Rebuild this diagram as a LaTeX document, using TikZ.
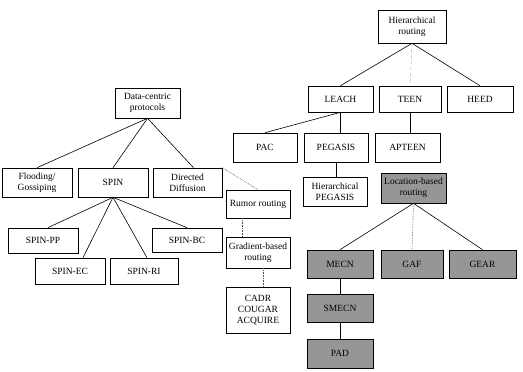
\documentclass[tikz,border=0pt]{standalone}
\usepackage{fontspec}
\setmainfont{Liberation Serif}
\usepackage{tikz}
\usetikzlibrary{calc,positioning}
\definecolor{locGray}{RGB}{150,150,150}

\tikzset{
  proto/.style={draw=black, fill=white, rectangle, line width=0.6pt, align=center,
    inner sep=1pt, font=\fontsize{9.5}{11}\selectfont},
  locbox/.style={proto, fill=locGray},
  tree/.style={line width=0.6pt},
  dotline/.style={line width=0.6pt, densely dotted, black!70},
  faint/.style={line width=0.5pt, dashed, black!35}
}

\begin{document}
\begin{tikzpicture}[x=1pt, y=-1pt]
  \useasboundingbox (0,0) rectangle (523,372);

  % hierarchical routing branch
  \node[proto, minimum width=68pt, minimum height=33pt] (hier) at (412,26.5) {Hierarchical\\routing};
  \node[proto, minimum width=65pt, minimum height=26pt] (leach) at (340.5,99) {LEACH};
  \node[proto, minimum width=62pt, minimum height=26pt] (teen) at (410,99) {TEEN};
  \node[proto, minimum width=66pt, minimum height=26pt] (heed) at (480,99) {HEED};
  \node[proto, minimum width=64pt, minimum height=29pt] (pac) at (265,147.5) {PAC};
  \node[proto, minimum width=64pt, minimum height=29pt] (pegasis) at (336,147.5) {PEGASIS};
  \node[proto, minimum width=65pt, minimum height=29pt] (apteen) at (407.5,147.5) {APTEEN};
  \node[proto, minimum width=64pt, minimum height=29pt] (hpeg) at (335,191.5) {Hierarchical\\PEGASIS};

  % location-based branch
  \node[locbox, minimum width=65pt, minimum height=30pt] (loc) at (413.5,188) {Location-based\\routing};
  \node[locbox, minimum width=66pt, minimum height=28pt] (mecn) at (340,264) {MECN};
  \node[locbox, minimum width=62pt, minimum height=28pt] (gaf) at (412,264) {GAF};
  \node[locbox, minimum width=67pt, minimum height=28pt] (gear) at (482.5,264) {GEAR};
  \node[locbox, minimum width=66pt, minimum height=28pt] (smecn) at (340,308) {SMECN};
  \node[locbox, minimum width=66pt, minimum height=29pt] (pad) at (340,353.5) {PAD};

  % data-centric branch
  \node[proto, minimum width=65pt, minimum height=30pt] (dc) at (147.5,103) {Data-centric\\protocols};
  \node[proto, minimum width=70pt, minimum height=29pt] (flood) at (37,182.5) {Flooding/\\Gossiping};
  \node[proto, minimum width=70pt, minimum height=29pt] (spin) at (113,182.5) {SPIN};
  \node[proto, minimum width=69pt, minimum height=29pt] (dd) at (187.5,182.5) {Directed\\Diffusion};
  \node[proto, minimum width=70pt, minimum height=25pt] (spinpp) at (43,240.5) {SPIN-PP};
  \node[proto, minimum width=70pt, minimum height=24pt] (spinbc) at (187,240) {SPIN-BC};
  \node[proto, minimum width=70pt, minimum height=26pt] (spinec) at (70,271) {SPIN-EC};
  \node[proto, minimum width=68pt, minimum height=26pt] (spinri) at (144,271) {SPIN-RI};
  \node[proto, minimum width=64pt, minimum height=28pt] (rumor) at (258,204) {Rumor routing};
  \node[proto, minimum width=64pt, minimum height=31pt] (grad) at (258,252.5) {Gradient-based\\routing};
  \node[proto, minimum width=64pt, minimum height=46pt] (cadr) at (258,310) {CADR\\COUGAR\\ACQUIRE};

  \draw[tree] (hier.south) -- (leach.north);
  \draw[faint] (hier.south) -- (teen.north);
  \draw[tree] (hier.south) -- (heed.north);
  \draw[tree] (leach.south) -- (pac.north);
  \draw[tree] (leach.south) -- (leach.south |- pegasis.north);
  \draw[tree] (teen.south) -- (teen.south |- apteen.north);
  \draw[tree] (pegasis.south) -- (pegasis.south |- hpeg.north);

  \draw[tree] (loc.south) -- (mecn.north);
  \draw[dotline] (loc.south) -- (gaf.north);
  \draw[tree] (loc.south) -- (gear.north);
  \draw[tree] (mecn.south) -- (smecn.north);
  \draw[tree] (smecn.south) -- (pad.north);

  \draw[tree] (dc.south) -- (flood.north);
  \draw[tree] (dc.south) -- (spin.north);
  \draw[tree] (dc.south) -- ([xshift=6pt]dd.north);
  \draw[tree] (spin.south) -- ([xshift=5pt]spinpp.north);
  \draw[tree] (spin.south) -- ([xshift=13pt]spinec.north);
  \draw[tree] (spin.south) -- ([xshift=3pt]spinri.north);
  \draw[tree] (spin.south) -- (spinbc.north);

  \draw[dotline] (dd.north east) -- (rumor.north);
  \draw[dotline] ([xshift=-16pt]rumor.south) -- ([xshift=-16pt]grad.north);
  \draw[dotline] ([xshift=5pt]grad.south) -- ([xshift=5pt]cadr.north);
\end{tikzpicture}
\end{document}
